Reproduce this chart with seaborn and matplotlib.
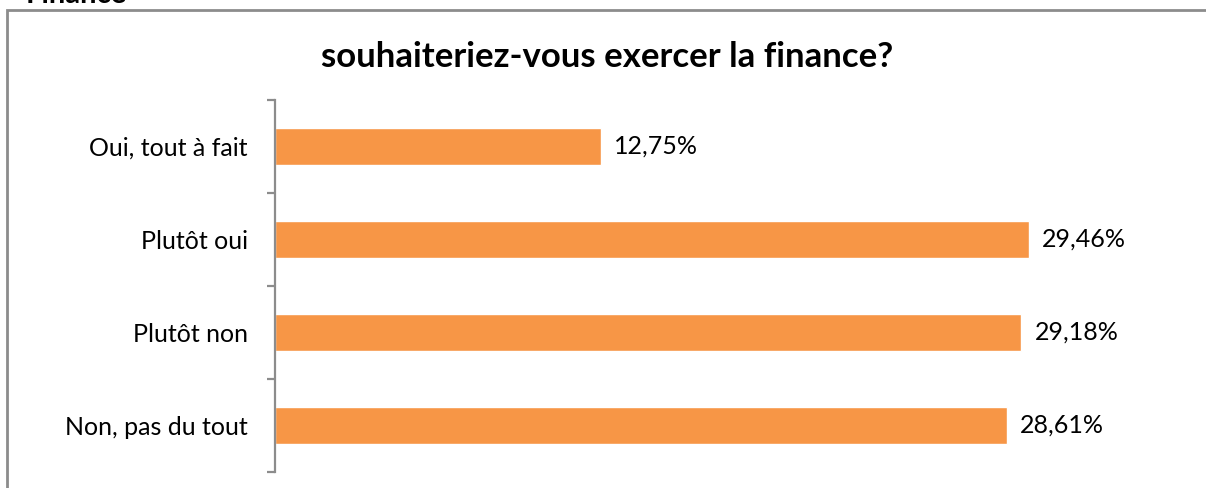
import matplotlib
matplotlib.use("Agg")
import matplotlib.pyplot as plt
from matplotlib.patches import Rectangle
import seaborn as sns
import pandas as pd

categories = ["Oui, tout à fait", "Plutôt oui", "Plutôt non", "Non, pas du tout"]
values = [12.75, 29.46, 29.18, 28.61]
value_labels = ["12,75%", "29,46%", "29,18%", "28,61%"]
title = "souhaiteriez-vous exercer la finance?"
header = "Finance"

sns.set_theme(style="white")
plt.rcParams["font.family"] = ["Lato", "DejaVu Sans"]

df = pd.DataFrame({"categorie": categories, "valeur": values})

fig = plt.figure(figsize=(12.06, 4.88), dpi=100)
ax = fig.add_axes([275 / 1206, 1 - 472 / 488, (1160 - 275) / 1206, (472 - 100) / 488])

sns.barplot(data=df, x="valeur", y="categorie", order=categories,
            color="#F79646", saturation=1, width=0.40, ax=ax)

ax.set_xlim(0, 34.6)
ax.set_ylim(len(categories) - 0.5, -0.5)
ax.set_xlabel("")
ax.set_ylabel("")
ax.set_xticks([])

for side in ["top", "right", "bottom"]:
    ax.spines[side].set_visible(False)
ax.spines["left"].set_color("#8c8c8c")
ax.spines["left"].set_linewidth(1.6)

# category labels without tick marks; tick marks sit at category boundaries
ax.tick_params(axis="y", which="major", left=False, length=0, pad=19.5,
               labelsize=18, labelcolor="#000000")
ax.set_yticks([i - 0.5 for i in range(len(categories) + 1)], minor=True)
ax.tick_params(axis="y", which="minor", left=True, length=6, width=1.6,
               color="#8c8c8c", direction="out")

for i, (v, lab) in enumerate(zip(values, value_labels)):
    ax.annotate(lab, xy=(v, i), xytext=(9.5, 0), textcoords="offset points",
                va="center", ha="left", fontsize=18, color="#000000")

fig.text((322 + 893) / 2 / 1206, 1 - 57 / 488, title, ha="center", va="center",
         fontsize=25, fontweight="bold", color="#000000")

fig.text(26 / 1206, 1 - 3 / 488, header, ha="left", va="baseline",
         fontsize=21, fontweight="bold", color="#000000")

# outer frame of the chart area
fig.patches.append(Rectangle((7 / 1206, -0.1), 1.1, 1 - 10 / 488 + 0.1,
                             transform=fig.transFigure, fill=False,
                             edgecolor="#8c8c8c", linewidth=2, clip_on=False))

fig.savefig("out.png", dpi=100)
